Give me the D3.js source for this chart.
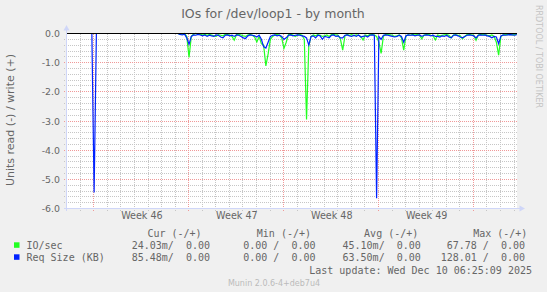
<!DOCTYPE html>
<html>
<head>
<meta charset="utf-8">
<script src="https://cdn.jsdelivr.net/npm/d3@7"></script>
<style>
body { margin: 0; background: #f0f0f0; }
svg { display: block; }
text { fill: #666666; font-family: "DejaVu Sans", sans-serif; }
.mono { font-family: "DejaVu Sans Mono", monospace; font-size: 10px; white-space: pre; }
</style>
</head>
<body>
<svg id="chart" width="547" height="292"></svg>
<script>
// time range of the month view, one sample every 4 hours
var startTime = Date.UTC(2025, 10, 8, 1, 30);
var endTime = Date.UTC(2025, 11, 11, 6, 0);
var stepHours = 4;

// IO/sec (read side, drawn negative)
var ioSec = [
  0, 0, 0, 0, 0, 0, 0, 0, 0, 0,
  0, 0, 0, 0, 0, 0, 0, 0, 0, 0,
  0, 0, 0, 0, 0, 0, 0, 0, 0, 0,
  0, 0, 0, 0, 0, 0, 0, 0, 0, 0,
  0, 0, 0, 0, 0, 0, 0, 0, 0, 0,
  -0.02, -0.03, 0, -0.1, -0.82, -0.1, -0.02, 0, -0.03, -0.02,
  -0.05, -0.03, -0.06, -0.03, -0.05, -0.08, -0.1, -0.04, -0.06, -0.08,
  -0.03, -0.04, -0.05, -0.1, -0.23, -0.04, -0.03, -0.05, -0.08, -0.1,
  -0.05, -0.03, -0.06, -0.12, -0.29, -0.1, -0.35, -0.4, -1.11, -0.7,
  -0.2, -0.1, -0.05, -0.03, -0.06, -0.15, -0.51, -0.3, -0.04, -0.03,
  -0.05, -0.1, -0.05, -0.03, -0.06, -0.2, -2.95, -0.4, -0.1, -0.05,
  -0.08, -0.04, -0.06, -0.1, -0.08, -0.05, -0.1, -0.04, -0.03, -0.05,
  -0.06, -0.2, -0.57, -0.08, -0.03, -0.06, -0.04, -0.08, -0.05, -0.06,
  -0.1, -0.22, -0.05, -0.08, -0.04, -0.03, -0.05, -0.1, -0.3, -0.68,
  -0.1, -0.03, -0.04, -0.05, -0.06, -0.1, -0.08, -0.05, -0.15, -0.57,
  -0.08, -0.05, -0.06, -0.03, -0.05, -0.04, -0.06, -0.18, -0.05, -0.04,
  -0.03, -0.06, -0.08, -0.22, -0.05, -0.08, -0.06, -0.05, -0.04, -0.06,
  -0.15, -0.05, -0.04, -0.06, -0.08, -0.18, -0.1, -0.04, -0.03, -0.05,
  -0.06, -0.23, -0.05, -0.03, -0.04, -0.05, -0.06, -0.08, -0.05, -0.1,
  -0.3, -0.74, -0.1, -0.05, -0.03, -0.04, -0.03, -0.05, -0.04, -0.03
];

// Req Size (KB)
var reqSize = [
  0, 0, 0, 0, 0, 0, 0, 0, 0, 0,
  0, 0, -5.45, 0, 0, 0, 0, 0, 0, 0,
  0, 0, 0, 0, 0, 0, 0, 0, 0, 0,
  0, 0, 0, 0, 0, 0, 0, 0, 0, 0,
  0, 0, 0, 0, 0, 0, 0, 0, 0, 0,
  -0.03, -0.05, -0.02, -0.15, -0.37, -0.1, -0.05, -0.06, -0.03, -0.05,
  -0.08, -0.05, -0.1, -0.06, -0.08, -0.1, -0.05, -0.06, -0.12, -0.15,
  -0.06, -0.05, -0.08, -0.06, -0.1, -0.05, -0.06, -0.1, -0.15, -0.17,
  -0.08, -0.05, -0.06, -0.08, -0.12, -0.06, -0.2, -0.45, -0.5, -0.3,
  -0.1, -0.06, -0.05, -0.08, -0.06, -0.1, -0.2, -0.15, -0.06, -0.05,
  -0.08, -0.06, -0.05, -0.06, -0.08, -0.1, -0.15, -0.4, -0.1, -0.08,
  -0.15, -0.06, -0.08, -0.2, -0.1, -0.12, -0.15, -0.06, -0.05, -0.1,
  -0.08, -0.15, -0.15, -0.06, -0.05, -0.08, -0.1, -0.06, -0.1, -0.05,
  -0.12, -0.1, -0.08, -0.12, -0.06, -0.05, -0.06, -5.65, -0.1, -0.2,
  -0.06, -0.05, -0.06, -0.08, -0.1, -0.12, -0.1, -0.06, -0.1, -0.3,
  -0.08, -0.05, -0.06, -0.05, -0.08, -0.06, -0.05, -0.1, -0.06, -0.05,
  -0.06, -0.08, -0.06, -0.1, -0.1, -0.12, -0.08, -0.1, -0.06, -0.12,
  -0.15, -0.06, -0.05, -0.08, -0.12, -0.15, -0.1, -0.06, -0.05, -0.06,
  -0.08, -0.15, -0.06, -0.05, -0.06, -0.05, -0.08, -0.1, -0.15, -0.1,
  -0.12, -0.35, -0.08, -0.05, -0.06, -0.05, -0.04, -0.05, -0.06, -0.04
];

var yTicks = [0, -1, -2, -3, -4, -5, -6];
var weekStarts = ['2025-11-10', '2025-11-17', '2025-11-24', '2025-12-01'];
var weekLabels = ['Week 46', 'Week 47', 'Week 48', 'Week 49'];

var seriesNames = ['IO/sec', 'Req Size (KB)'];
var seriesColors = ['#22ff22', '#0022ff'];
var legendHeads = ['Cur (-/+)', 'Min (-/+)', 'Avg (-/+)', 'Max (-/+)'];
var curVals = [' 24.03m/  0.00', ' 85.48m/  0.00'];
var minVals = ['  0.00 /  0.00', '  0.00 /  0.00'];
var avgVals = [' 45.10m/  0.00', ' 63.50m/  0.00'];
var maxVals = [' 67.78 /  0.00', '128.01 /  0.00'];
var lastUpdate = 'Last update: Wed Dec 10 06:25:09 2025';

var svg = d3.select('#chart');

var x = d3.scaleUtc()
  .domain([new Date(startTime), new Date(endTime)])
  .range([67, 517]);

var y = d3.scaleLinear()
  .domain([-6, 0])
  .range([208, 33]);

function sampleTime(i) { return new Date(startTime + i * stepHours * 3600 * 1000); }

// canvas
svg.append('rect')
  .attr('x', 67).attr('y', 33)
  .attr('width', 450).attr('height', 176)
  .attr('fill', '#ffffff');

var days = d3.utcDay.range(x.domain()[0], x.domain()[1]);
var mondays = d3.utcMonday.range(x.domain()[0], x.domain()[1]);
var minorY = d3.range(0, 31).filter(k => k % 5 != 0).map(k => -6 + k * 0.2);
var majorY = [-5, -4, -3, -2, -1];

// grid drawn as rows of 1px dots (dotted rrdtool style)
var grid = svg.append('g');
var minorColor = '#c6c6c6';
var majorColor = '#f09999';

function hDots(yy, color) {
  var row = Math.round(yy);
  grid.selectAll(null)
    .data(d3.range(64, 517, 2))
    .enter().append('rect')
    .attr('x', d => d).attr('y', row)
    .attr('width', 1).attr('height', 1)
    .attr('fill', color);
}
function vDots(xx, color) {
  var col = Math.round(xx);
  grid.selectAll(null)
    .data(d3.range(34, 212, 2))
    .enter().append('rect')
    .attr('x', col).attr('y', d => d)
    .attr('width', 1).attr('height', 1)
    .attr('fill', color);
}

days.filter(d => d.getUTCDay() != 1).forEach(d => vDots(x(d), minorColor));
minorY.forEach(v => hDots(y(v), minorColor));
mondays.forEach(d => vDots(x(d), majorColor));
majorY.forEach(v => hDots(y(v), majorColor));

// data lines
var line = d3.line()
  .x((d, i) => x(sampleTime(i)))
  .y(d => y(d) + 0.5);

[ioSec, reqSize].forEach(function(series, k) {
  svg.append('path')
    .datum(series)
    .attr('d', line)
    .attr('fill', 'none')
    .attr('stroke', seriesColors[k])
    .attr('stroke-width', 1.2);
});

// zero line
svg.append('rect')
  .attr('x', 67).attr('y', Math.round(y(0)))
  .attr('width', 450).attr('height', 1)
  .attr('fill', '#000000');

// axis lines and arrows
var axisColor = '#cfd6f8';
svg.append('rect')
  .attr('x', 66).attr('y', 28)
  .attr('width', 1).attr('height', 183)
  .attr('fill', axisColor);
svg.append('path')
  .attr('d', 'M63.5,30.5L66.5,25L69.5,30.5Z')
  .attr('fill', axisColor);
svg.append('rect')
  .attr('x', 64).attr('y', 208)
  .attr('width', 457).attr('height', 1)
  .attr('fill', axisColor);
svg.append('path')
  .attr('d', 'M519.5,205.5L525,208.5L519.5,211.5Z')
  .attr('fill', axisColor);

// y labels
var yAxis = svg.append('g')
  .attr('transform', 'translate(62,0.5)')
  .call(d3.axisLeft(y).tickValues(yTicks).tickSize(0).tickPadding(2)
    .tickFormat(d => d.toFixed(1)));
yAxis.select('.domain').remove();
yAxis.selectAll('text')
  .attr('fill', '#666666')
  .style('font-family', '"DejaVu Sans", sans-serif')
  .style('font-size', '9.4px');

// week labels
var weekMid = weekStarts.map(s => new Date(Date.parse(s + 'T00:00:00Z') + 3.55 * 86400000));
var xAxis = svg.append('g')
  .attr('transform', 'translate(0,208.5)')
  .call(d3.axisBottom(x).tickValues(weekMid).tickSize(0).tickPadding(4)
    .tickFormat((d, i) => weekLabels[i]));
xAxis.select('.domain').remove();
xAxis.selectAll('text')
  .attr('fill', '#666666')
  .style('font-family', '"DejaVu Sans", sans-serif')
  .style('font-size', '9.6px');

// title
svg.append('text')
  .attr('x', 273).attr('y', 18)
  .attr('text-anchor', 'middle')
  .style('font-size', '12.5px')
  .text('IOs for /dev/loop1 - by month');

// y title
svg.append('text')
  .attr('transform', 'translate(14,120) rotate(-90)')
  .attr('text-anchor', 'middle')
  .style('font-size', '11px')
  .text('Units read (-) / write (+)');

// watermark
svg.append('text')
  .attr('transform', 'translate(536,5) rotate(90)')
  .style('font-size', '8px')
  .style('fill', '#c4c4c4')
  .text('RRDTOOL / TOBI OETIKER');

// legend
var headX = [147.4, 256.8, 364.1, 473.2];
legendHeads.forEach(function(h, i) {
  svg.append('text').attr('class', 'mono')
    .attr('x', headX[i]).attr('y', 237).text(h);
});

var colX = [125.7, 231.2, 336.5, 440.7];
seriesNames.forEach(function(name, k) {
  var yy = 249.3 + k * 12;
  svg.append('rect')
    .attr('x', 14).attr('y', yy - 7)
    .attr('width', 5.5).attr('height', 5.5)
    .attr('fill', seriesColors[k]);
  svg.append('text').attr('class', 'mono')
    .attr('x', 26.5).attr('y', yy).text(name);
  [curVals, minVals, avgVals, maxVals].forEach(function(vals, c) {
    svg.append('text').attr('class', 'mono')
      .attr('x', colX[c]).attr('y', yy).text(vals[k]);
  });
});

svg.append('text').attr('class', 'mono')
  .attr('x', 532).attr('y', 273.5)
  .attr('text-anchor', 'end')
  .text(lastUpdate);

svg.append('text')
  .attr('x', 274).attr('y', 286)
  .attr('text-anchor', 'middle')
  .style('font-size', '8px')
  .style('fill', '#bbbbbb')
  .text('Munin 2.0.6-4+deb7u4');
</script>
</body>
</html>
